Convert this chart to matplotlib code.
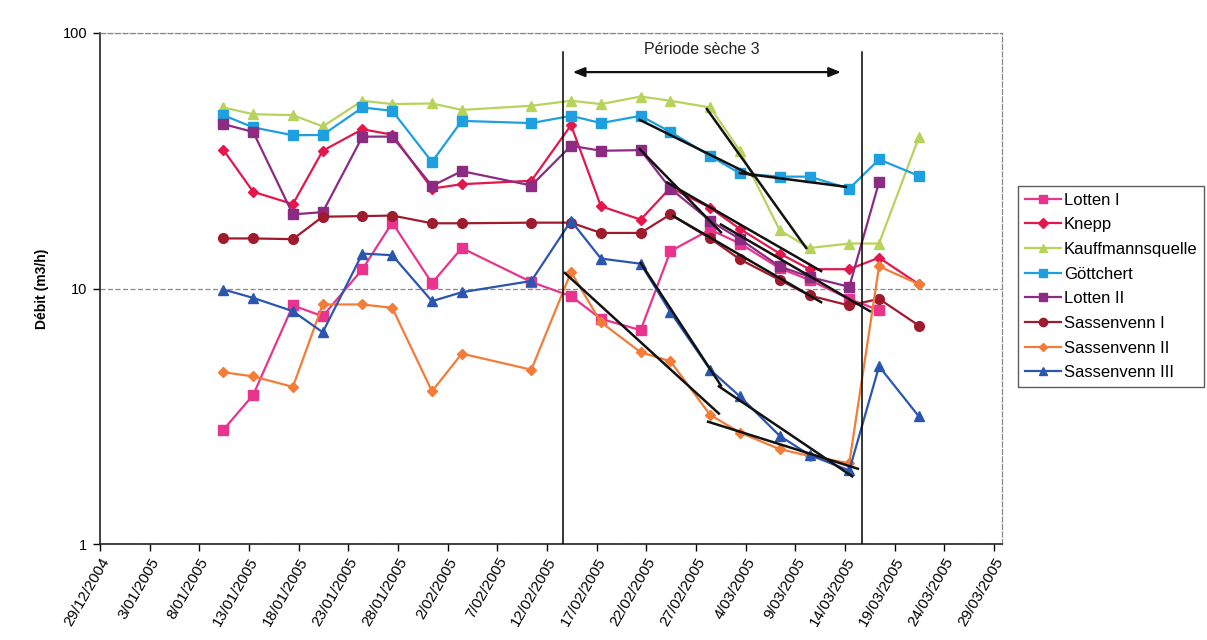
import matplotlib
matplotlib.use("Agg")
import matplotlib.pyplot as plt
import matplotlib.dates as mdates
from matplotlib.ticker import FixedLocator, FuncFormatter, NullLocator
from matplotlib.lines import Line2D
import numpy as np
import pandas as pd

plt.rcParams["font.family"] = ["Liberation Sans", "DejaVu Sans"]

# Sampling campaign dates (measurements taken mid-morning)
sample_dates = ["2005-01-10", "2005-01-13", "2005-01-17", "2005-01-20", "2005-01-24",
                "2005-01-27", "2005-01-31", "2005-02-03", "2005-02-10", "2005-02-14",
                "2005-02-17", "2005-02-21", "2005-02-24", "2005-02-28", "2005-03-03",
                "2005-03-07", "2005-03-10", "2005-03-14", "2005-03-17", "2005-03-21"]
SAMPLE_HOUR = 10

# Discharge (m3/h) per spring
lotten_1 = [2.80, 3.83, 8.58, 7.79, 11.9, 18.1, 10.5, 14.4, 10.6, 9.33,
            7.61, 6.87, 14.0, 17.0, 15.0, 12.0, 10.8, 9.1, 8.22, None]
knepp = [34.9, 23.9, 21.4, 34.6, 42.0, 40.0, 24.6, 25.6, 26.4, 43.6,
         21.0, 18.6, 24.8, 20.7, 17.1, 13.7, 11.9, 11.9, 13.2, 10.4]
kauffmannsquelle = [51.1, 48.1, 47.7, 43.1, 54.3, 52.7, 53.0, 50.0, 51.9, 54.3,
                    52.7, 56.4, 54.3, 51.1, 34.6, 16.9, 14.4, 15.0, 15.0, 39.0]
goettchert = [47.7, 42.7, 39.8, 39.9, 51.1, 49.6, 31.3, 45.3, 44.4, 47.4,
              44.4, 47.4, 41.0, 33.0, 28.2, 27.4, 27.4, 24.6, 32.0, 27.6]
lotten_2 = [44.0, 41.0, 19.5, 19.9, 39.3, 39.3, 25.2, 28.8, 25.3, 36.2,
            34.6, 34.8, 24.6, 18.4, 15.6, 12.2, 11.1, 10.15, 26.1, None]
sassenvenn_1 = [15.7, 15.7, 15.6, 19.1, 19.2, 19.3, 18.0, 18.0, 18.1, 18.1,
                16.5, 16.5, 19.5, 15.7, 13.0, 10.8, 9.39, 8.58, 9.11, 7.16]
sassenvenn_2 = [4.70, 4.53, 4.12, 8.66, 8.66, 8.40, 3.96, 5.56, 4.81, 11.6,
                7.38, 5.63, 5.19, 3.20, 2.73, 2.35, 2.21, 2.07, 12.2, 10.4]
sassenvenn_3 = [9.91, 9.19, 8.15, 6.74, 13.7, 13.5, 8.92, 9.67, 10.7, 18.4,
                13.1, 12.5, 8.08, 4.81, 3.78, 2.65, 2.23, 1.94, 4.96, 3.16]

series_names = ["Lotten I", "Knepp", "Kauffmannsquelle", "Göttchert", "Lotten II",
                "Sassenvenn I", "Sassenvenn II", "Sassenvenn III"]
series_values = [lotten_1, knepp, kauffmannsquelle, goettchert, lotten_2,
                 sassenvenn_1, sassenvenn_2, sassenvenn_3]
series_colors = ["#E8348C", "#E3174B", "#B7D35C", "#1E9FE0", "#8B2B82",
                 "#9E1B2E", "#F27C38", "#2B56B0"]
series_markers = ["s", "D", "^", "s", "s", "o", "D", "^"]
series_msize = [7.0, 5.5, 7.0, 7.0, 7.0, 7.0, 5.0, 7.5]

# Recession trend segments (start/end date and discharge)
trend_start_dates = ["2005-02-21 08:00", "2005-03-03 10:00", "2005-02-28 02:00",
                     "2005-02-21 08:00", "2005-02-24 02:00", "2005-03-01 12:00",
                     "2005-02-24 17:00", "2005-02-13 19:00", "2005-02-21 10:00",
                     "2005-03-01 07:00", "2005-02-28 05:00"]
trend_start_vals = [45.7, 28.3, 50.4, 35.1, 26.0, 17.8, 19.2, 11.5, 12.6, 4.14, 3.01]
trend_end_dates = ["2005-03-04 17:00", "2005-03-14 02:00", "2005-03-10 02:00",
                   "2005-03-01 12:00", "2005-03-11 14:00", "2005-03-16 12:00",
                   "2005-03-11 14:00", "2005-03-01 07:00", "2005-03-01 12:00",
                   "2005-03-14 17:00", "2005-03-15 07:00"]
trend_end_vals = [27.6, 25.0, 14.4, 16.6, 11.7, 8.15, 8.84, 3.24, 4.17, 1.84, 1.97]

# Dry period bounds
dry_bounds = ["2005-02-13 14:00", "2005-03-15 17:00"]
dry_arrow = ["2005-02-14 14:00", "2005-03-13 14:00"]
dry_label = "Période sèche 3"

x_start, x_end = "2004-12-29", "2005-03-29 19:00"
tick_dates = pd.date_range("2004-12-29", "2005-03-29", freq="5D")

fig = plt.figure(figsize=(12.07, 6.40), dpi=100)
ax = fig.add_axes([100 / 1207, 1 - 544 / 640, (1002 - 100) / 1207, (544 - 33) / 640])

x = mdates.date2num(pd.to_datetime(sample_dates) + pd.Timedelta(hours=SAMPLE_HOUR))
handles = []
for i, (name, vals, col, mk, ms) in enumerate(zip(series_names, series_values, series_colors,
                                                   series_markers, series_msize)):
    y = np.array([np.nan if v is None else v for v in vals], dtype=float)
    ax.plot(x, y, color=col, lw=1.6, marker=mk, ms=ms, mfc=col, mec=col, zorder=3 + i * 0.1)
    handles.append(Line2D([], [], color=col, lw=1.6, marker=mk, ms=ms * 0.85, mfc=col, mec=col))

for sd, sv, ed, ev in zip(trend_start_dates, trend_start_vals, trend_end_dates, trend_end_vals):
    ax.plot(mdates.date2num(pd.to_datetime([sd, ed])), [sv, ev], color="#111111", lw=1.8, zorder=5)

for b in dry_bounds:
    bx = mdates.date2num(pd.Timestamp(b))
    ax.plot([bx, bx], [1, 84], color="black", lw=1.1, zorder=4)

ax.annotate("", xy=(mdates.date2num(pd.Timestamp(dry_arrow[1])), 70.3),
            xytext=(mdates.date2num(pd.Timestamp(dry_arrow[0])), 70.3),
            arrowprops=dict(arrowstyle="<|-|>,head_length=0.7,head_width=0.28",
                            color="#111111", lw=1.6, shrinkA=0, shrinkB=0), zorder=6)
ax.text(mdates.date2num(pd.Timestamp("2005-02-27 14:00")), 86, dry_label,
        ha="center", va="center", fontsize=11.5, color="#222222")

ax.set_yscale("log")
ax.set_ylim(1, 100)
ax.set_xlim(mdates.date2num(pd.Timestamp(x_start)), mdates.date2num(pd.Timestamp(x_end)))

ax.yaxis.set_major_locator(FixedLocator([1, 10, 100]))
ax.yaxis.set_minor_locator(NullLocator())
ax.yaxis.set_major_formatter(FuncFormatter(lambda v, p: f"{v:g}"))
ax.xaxis.set_major_locator(FixedLocator(mdates.date2num(tick_dates)))
ax.xaxis.set_minor_locator(NullLocator())
ax.xaxis.set_major_formatter(FuncFormatter(
    lambda v, p: (lambda d: f"{d.day}/{d.month:02d}/{d.year}")(mdates.num2date(v))))

ax.tick_params(axis="x", direction="out", length=5, width=1, labelsize=11, pad=3)
ax.tick_params(axis="y", direction="out", length=5, width=1, labelsize=10.5, pad=4)
for lab in ax.get_xticklabels():
    lab.set_rotation(60)
    lab.set_ha("right")
    lab.set_va("top")
    lab.set_rotation_mode("anchor")

ax.yaxis.grid(True, which="major", color="#888888", lw=0.9, ls=(0, (4, 2)))
ax.set_axisbelow(True)
for s in ["top", "right"]:
    ax.spines[s].set_color("#888888")
    ax.spines[s].set_linestyle((0, (4, 2)))
    ax.spines[s].set_linewidth(0.9)
for s in ["left", "bottom"]:
    ax.spines[s].set_color("#222222")
    ax.spines[s].set_linewidth(1.2)

ax.set_ylabel("Débit (m3/h)", fontsize=10, fontweight="bold")
ax.yaxis.set_label_coords(-0.056, 0.5)

leg = fig.legend(handles, series_names, loc="upper left",
                 bbox_to_anchor=(1018 / 1207, 1 - 186 / 640), borderaxespad=0,
                 fontsize=12, frameon=True, fancybox=False, edgecolor="#333333",
                 handlelength=2.2, handletextpad=0.15, labelspacing=0.58,
                 borderpad=0.4)
leg.get_frame().set_linewidth(1.0)

fig.savefig("out.png", dpi=100, facecolor="white")
